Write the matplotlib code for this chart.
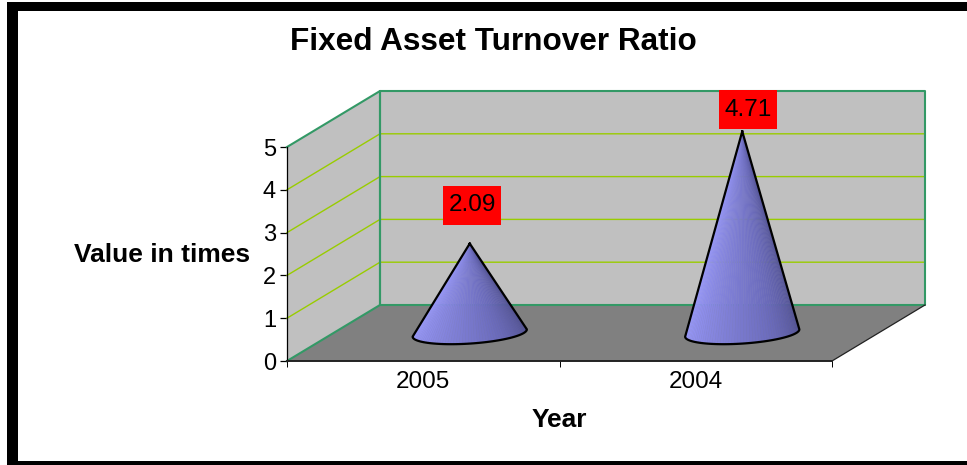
import matplotlib
matplotlib.use("Agg")
import matplotlib.pyplot as plt
import numpy as np
from matplotlib.collections import PolyCollection
from matplotlib.colors import LinearSegmentedColormap
from matplotlib.patches import Rectangle

years = ["2005", "2004"]
ratios = [2.09, 4.71]
value_ticks = [0, 1, 2, 3, 4, 5]

WIDTH, HEIGHT = 967, 465
# front plane of the 3d box, in pixels
LEFT, RIGHT, BOTTOM, TOP = 287, 832, 361, 147
DEPTH_X = 93 / ((RIGHT - LEFT) / 2)  # category units per full depth
DEPTH_Y = 56 / ((BOTTOM - TOP) / 5)  # value units per full depth
PX_X = 2 / (RIGHT - LEFT)
PX_Y = 5 / (BOTTOM - TOP)

GREEN = "#339966"
GRID = "#99CC00"
WALL = "#C0C0C0"
FLOOR = "#808080"

plt.rcParams["font.family"] = ["Liberation Sans", "DejaVu Sans"]


def project(x, value, depth):
    return x + depth * DEPTH_X, value + depth * DEPTH_Y


def draw_cone(ax, centre, value):
    """Fan of thin triangles from the apex to the front of the base, plus outline"""
    r = 54 * PX_X
    rd = 0.2
    t0 = np.arctan2(rd * DEPTH_X, r)
    angles = np.linspace(np.pi + t0, 2 * np.pi + t0, 60)
    bx, by = project(centre + r * np.cos(angles), 0, 0.5 + rd * np.sin(angles))
    ax_, ay_ = project(centre, value, 0.5)
    cmap = LinearSegmentedColormap.from_list("cone", ["#9C9CFF", "#8484DC", "#6C6CBC", "#50508F"])
    tris = []
    for i in range(len(angles) - 1):
        tris.append([(ax_, ay_), (bx[i], by[i]), (bx[i + 1], by[i + 1])])
    colors = cmap(np.linspace(0, 1, len(tris)))
    ax.add_collection(PolyCollection(tris, facecolors=colors, edgecolors=colors, linewidths=0.3,
                                     zorder=4, clip_on=False))
    ax.plot(np.r_[ax_, bx, ax_], np.r_[ay_, by, ay_], color="black", lw=1.6, zorder=5,
            clip_on=False, solid_joinstyle="round")


fig = plt.figure(figsize=(WIDTH / 100, HEIGHT / 100), dpi=100, facecolor="white")

# black frame round the picture
frame = [(7, 2, 11, 459), (7, 2, 960, 9), (7, 461, 960, 4)]
for x, y, w, h in frame:
    fig.add_artist(Rectangle((x / WIDTH, 1 - (y + h) / HEIGHT), w / WIDTH, h / HEIGHT,
                             transform=fig.transFigure, color="black", lw=0))

ax = fig.add_axes([LEFT / WIDTH, 1 - BOTTOM / HEIGHT, (RIGHT - LEFT) / WIDTH, (BOTTOM - TOP) / HEIGHT])
ax.patch.set_visible(False)
ax.set_xlim(0, len(years))
ax.set_ylim(0, max(value_ticks))

x_end = len(years)
v_top = max(value_ticks)

# side wall, back wall and floor
side = [project(0, 0, 0), project(0, v_top, 0), project(0, v_top, 1), project(0, 0, 1)]
back = [project(0, 0, 1), project(0, v_top, 1), project(x_end, v_top, 1), project(x_end, 0, 1)]
floor = [project(0, 0, 0), project(0, 0, 1), project(x_end, 0, 1), project(x_end, 0, 0)]
ax.add_patch(plt.Polygon(side, fc=WALL, ec="none", clip_on=False, zorder=1))
ax.add_patch(plt.Polygon(back, fc=WALL, ec="none", clip_on=False, zorder=1))
ax.add_patch(plt.Polygon(floor, fc=FLOOR, ec="none", clip_on=False, zorder=1))

# gridlines run along the side wall and the back wall
for v in value_ticks[1:-1]:
    pts = [project(0, v, 0), project(0, v, 1), project(x_end, v, 1)]
    ax.plot(*zip(*pts), color=GRID, lw=1.0, zorder=2, clip_on=False)

# wall edges
edge = [project(0, 0, 0), project(0, 0, 1), project(0, v_top, 1), project(0, 0, 1), project(x_end, 0, 1),
        project(x_end, v_top, 1), project(0, v_top, 1), project(0, v_top, 0)]
ax.plot(*zip(*edge), color=GREEN, lw=1.5, zorder=3, clip_on=False)
ax.plot(*zip(project(x_end, 0, 0), project(x_end, 0, 1)), color="#222222", lw=0.9, zorder=3, clip_on=False)

# cones and their labels, label offsets in pixels from the tip
label_offsets = [(2.5, 38.5), (6, 21.5)]
for i, value in enumerate(ratios):
    centre = i + 0.5
    draw_cone(ax, centre, value)
    tip_x, tip_y = project(centre, value, 0.5)
    box_x = tip_x + label_offsets[i][0] * PX_X
    box_y = tip_y + label_offsets[i][1] * PX_Y
    ax.add_patch(Rectangle((box_x - 29 * PX_X, box_y - 19.5 * PX_Y), 58 * PX_X, 39 * PX_Y,
                           fc="#FF0000", ec="none", zorder=6, clip_on=False))
    ax.text(box_x, box_y, f"{value:.2f}", ha="center", va="center", fontsize=17.5, color="black",
            zorder=7, clip_on=False)

ax.set_yticks(value_ticks)
ax.set_xticks(range(len(years) + 1))
ax.set_xticklabels([])
ax.set_xticks([i + 0.5 for i in range(len(years))], years, minor=True)
ax.tick_params(axis="y", length=5, width=0.9, labelsize=17, pad=3)
ax.tick_params(axis="x", which="major", length=4, width=0.7)
ax.tick_params(axis="x", which="minor", length=0, labelsize=17.5, pad=7)
for side_name in ["top", "right"]:
    ax.spines[side_name].set_visible(False)
ax.spines["left"].set_linewidth(0.9)
ax.spines["bottom"].set_linewidth(1.4)
ax.spines["bottom"].set_color("#222222")
for spine in ax.spines.values():
    spine.set_zorder(3)

fig.text(493 / WIDTH, 1 - 42 / HEIGHT, "Fixed Asset Turnover Ratio", ha="center", va="center",
         fontsize=22.7, fontweight="bold", color="black")
fig.text(162 / WIDTH, 1 - 255 / HEIGHT, "Value in times", ha="center", va="center",
         fontsize=19, fontweight="bold", color="black")
fig.text(559 / WIDTH, 1 - 420 / HEIGHT, "Year", ha="center", va="center",
         fontsize=19, fontweight="bold", color="black")

fig.savefig("out.png", dpi=100)
